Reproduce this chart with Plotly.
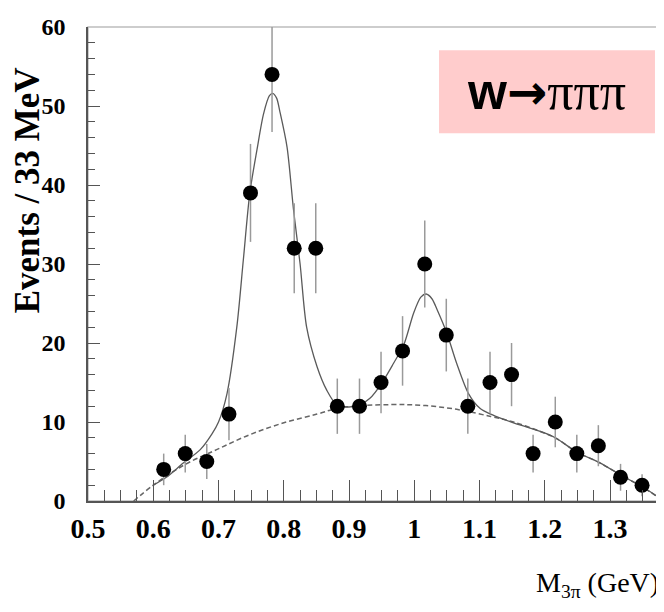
import plotly.graph_objects as go

# ---- data ----
mass = [0.616, 0.649, 0.682, 0.716, 0.749, 0.782, 0.816, 0.849, 0.882, 0.916,
        0.949, 0.982, 1.016, 1.049, 1.082, 1.116, 1.149, 1.182, 1.216, 1.249,
        1.282, 1.316, 1.349]
counts = [4, 6, 5, 11, 39, 54, 32, 32, 12, 12, 15, 19, 30, 21, 12, 15, 16, 6,
          10, 6, 7, 3, 2]
errors = [2.0, 2.4, 2.2, 3.3, 6.2, 7.3, 5.7, 5.7, 3.5, 3.5, 3.9, 4.4, 5.5, 4.6,
          3.5, 3.9, 4.0, 2.4, 3.2, 2.4, 2.6, 1.7, 1.4]

fit_x = [0.600, 0.620, 0.646, 0.672, 0.690, 0.700, 0.713, 0.728, 0.738, 0.748,
         0.759, 0.769, 0.778, 0.783, 0.789, 0.794, 0.805, 0.815, 0.825, 0.835,
         0.851, 0.866, 0.881, 0.900, 0.917, 0.932, 0.950, 0.968, 0.984, 0.999,
         1.010, 1.018, 1.027, 1.035, 1.050, 1.065, 1.083, 1.101, 1.117, 1.135,
         1.152, 1.193, 1.216, 1.249, 1.285, 1.316, 1.349, 1.378]
fit_y = [2.0, 3.0, 4.8, 6.5, 8.5, 10.0, 13.6, 22.0, 30.5, 39.0,
         44.5, 49.0, 51.3, 51.6, 51.0, 49.3, 44.8, 36.8, 30.0, 22.0,
         17.0, 14.0, 12.2, 11.9, 12.2, 13.0, 14.9, 17.4, 19.8, 23.8,
         25.8, 26.2, 25.6, 24.2, 21.2, 17.4, 13.6, 11.7, 11.0, 10.4,
         9.9, 8.8, 8.0, 6.2, 4.8, 3.3, 1.8, 0.3]

bkg_x = [0.570, 0.600, 0.646, 0.697, 0.748, 0.800, 0.851, 0.886, 0.963, 1.014,
         1.065, 1.117, 1.152, 1.193, 1.216, 1.249, 1.285, 1.316, 1.349, 1.378]
bkg_y = [0.0, 2.0, 4.5, 6.5, 8.4, 9.9, 11.0, 11.8, 12.2, 12.1,
         11.6, 10.7, 10.0, 8.8, 8.0, 6.2, 4.8, 3.3, 1.8, 0.2]

x_ticks = [0.5, 0.6, 0.7, 0.8, 0.9, 1.0, 1.1, 1.2, 1.3]
x_ticklabels = ["0.5", "0.6", "0.7", "0.8", "0.9", "1", "1.1", "1.2", "1.3"]
y_ticks = [0, 10, 20, 30, 40, 50, 60]

serif = "Liberation Serif, Times New Roman, serif"

fig = go.Figure()

fig.add_trace(go.Scatter(
    x=bkg_x, y=bkg_y, mode="lines", line_shape="spline",
    line=dict(color="#666666", width=1.5, dash="5px,3px"),
    hoverinfo="skip", showlegend=False))

fig.add_trace(go.Scatter(
    x=fit_x, y=fit_y, mode="lines", line_shape="spline",
    line=dict(color="#5a5a5a", width=1.3, smoothing=0.8),
    hoverinfo="skip", showlegend=False))

fig.add_trace(go.Scatter(
    x=mass, y=counts, mode="markers",
    marker=dict(symbol="circle", size=15, color="black"),
    error_y=dict(type="data", array=errors, visible=True, color="#9a9a9a",
                 thickness=1.5, width=0),
    cliponaxis=True, showlegend=False))

# the page body has an 8px default margin; the figure is sized so that the
# plot area lands at x 88..661, y 27..501 of the browser window
fig.update_layout(
    width=656, height=604,
    margin=dict(l=80, r=3, t=19, b=111),
    paper_bgcolor="white", plot_bgcolor="white",
    font=dict(family=serif, color="black"),
    xaxis=dict(
        range=[0.5, 1.378], tickvals=x_ticks, ticktext=x_ticklabels,
        ticks="inside", ticklen=21, tickwidth=1, tickcolor="#555",
        minor=dict(dtick=0.025, tick0=0.5, ticks="inside", ticklen=11,
                   tickcolor="#555", tickwidth=1),
        showgrid=False, zeroline=False, showline=True, linecolor="#555",
        linewidth=1.5, ticklabelstandoff=2,
        tickfont=dict(family=serif, size=28, color="black", weight="bold"),
    ),
    yaxis=dict(
        range=[0, 60], tickvals=y_ticks,
        ticks="inside", ticklen=12, tickwidth=1, tickcolor="#555",
        minor=dict(dtick=2, tick0=0, ticks="inside", ticklen=7,
                   tickcolor="#555", tickwidth=1),
        showgrid=False, zeroline=False, showline=True, linecolor="#555",
        linewidth=1.5, ticklabelstandoff=16,
        tickfont=dict(family=serif, size=24, color="black", weight="bold"),
    ),
    shapes=[
        dict(type="rect", xref="paper", yref="paper", x0=0, x1=1, y0=0, y1=1,
             line=dict(color="#bdbdbd", width=1.5), layer="below"),
        dict(type="rect", xref="paper", yref="paper", x0=0.6126, x1=0.9895,
             y0=0.776, y1=0.951, fillcolor="#FFCCCC", line=dict(width=0),
             layer="below"),
    ],
    annotations=[
        dict(text="<b>Events / 33 MeV</b>", xref="paper", yref="paper",
             x=-0.105, y=0.655, textangle=-90, showarrow=False,
             xanchor="center", yanchor="middle",
             font=dict(family=serif, size=35, color="black")),
        dict(text="M<sub>3π</sub> (GeV)", xref="paper", yref="paper",
             x=1.0, y=-0.177, showarrow=False, xanchor="right",
             yanchor="middle",
             font=dict(family=serif, size=28, color="black")),
        dict(text="<span style='font-family:Liberation Sans, Arial, sans-serif;font-size:50px'><b>w</b></span>"
                  "<span style='font-family:DejaVu Sans, sans-serif;font-size:48px'><b>→</b></span>πππ",
             xref="paper", yref="paper", x=0.801, y=0.863, showarrow=False,
             xanchor="center", yanchor="middle",
             font=dict(family=serif, size=52, color="black")),
    ],
)

fig.write_html("out.html")
